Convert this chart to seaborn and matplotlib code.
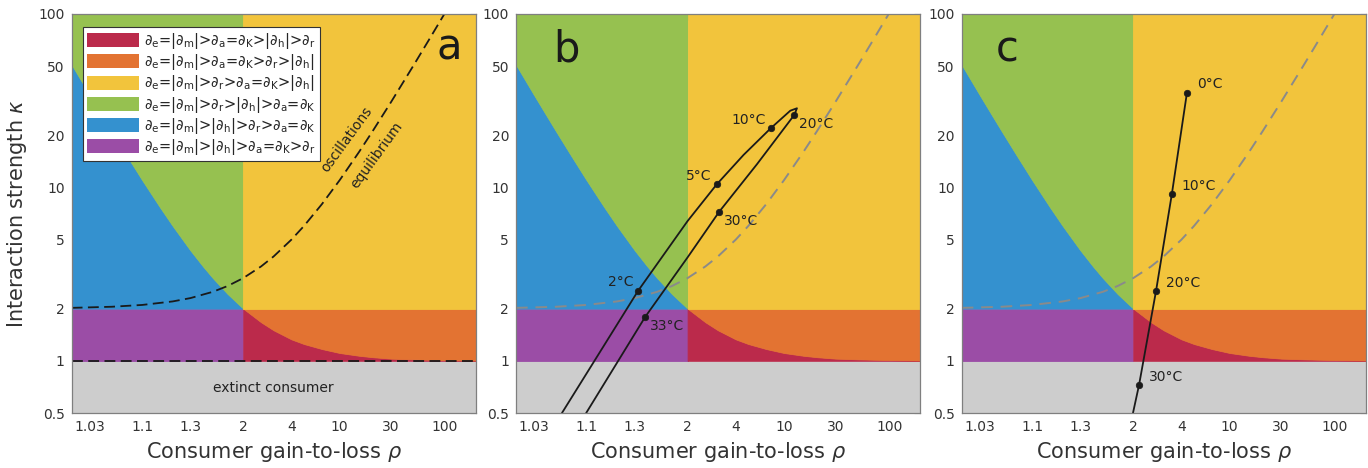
import numpy as np
import pandas as pd
import seaborn as sns
import matplotlib.pyplot as plt
from matplotlib.patches import Patch
from matplotlib.ticker import FixedLocator, FixedFormatter, NullLocator

# boundary curve between regimes
bound_rho = [1.02, 1.03, 1.04, 1.05, 1.07, 1.1, 1.15, 1.2, 1.3, 1.4, 1.5, 1.7, 2,
             2.5, 3, 4, 5, 7, 10, 15, 20, 30, 50, 100, 201]
bound_kap = [51, 34.3, 26, 21, 15.3, 11, 7.67, 6.0, 4.33, 3.5, 3.0, 2.43, 2.0,
             1.67, 1.5, 1.33, 1.25, 1.17, 1.11, 1.07, 1.05, 1.03, 1.02, 1.01, 1.005]

# oscillations / equilibrium boundary
hopf_rho = [1.02, 1.05, 1.1, 1.2, 1.3, 1.5, 1.7, 2, 2.5, 3, 4, 5, 7, 10, 15, 20, 30, 50, 70, 99]
hopf_kap = [2.02, 2.05, 2.1, 2.2, 2.3, 2.5, 2.7, 3, 3.5, 4, 5, 6, 8, 11, 16, 21, 31, 51, 71, 100]

# panel b: temperature loop
loop_rho = [1.057, 1.323, 2.0, 2.94, 4.585, 7.64, 11.4, 13.1, 12.4, 5.86, 3.06, 2.0, 1.38, 1.099]
loop_kap = [0.5, 2.53, 6.4, 10.4, 15.4, 21.9, 27.7, 28.6, 26.2, 13.6, 7.25, 3.95, 1.79, 0.5]
b_temps = ['2°C', '5°C', '10°C', '20°C', '30°C', '33°C']
b_pt_rho = [1.323, 2.94, 7.64, 12.4, 3.06, 1.38]
b_pt_kap = [2.53, 10.4, 21.9, 26.2, 7.25, 1.79]

# panel c: temperature line
cline_rho = [1.993, 2.14, 2.68, 3.41, 4.40]
cline_kap = [0.5, 0.725, 2.53, 9.17, 35.2]
c_temps = ['0°C', '10°C', '20°C', '30°C']
c_pt_rho = [4.40, 3.41, 2.68, 2.14]
c_pt_kap = [35.2, 9.17, 2.53, 0.725]

orderings = ['e=|m|>a=K>|h|>r', 'e=|m|>a=K>r>|h|', 'e=|m|>r>a=K>|h|',
             'e=|m|>r>|h|>a=K', 'e=|m|>|h|>r>a=K', 'e=|m|>|h|>a=K>r']

xticks = [1.03, 1.1, 1.3, 2, 4, 10, 30, 100]
xticklabels = ['1.03', '1.1', '1.3', '2', '4', '10', '30', '100']
yticks = [0.5, 1, 2, 5, 10, 20, 50, 100]
yticklabels = ['0.5', '1', '2', '5', '10', '20', '50', '100']

red, orange, yellow = '#BB2A4B', '#E37332', '#F2C43C'
green, blue, purple = '#96C150', '#3491CF', '#9B4DA6'
grey = '#CDCDCD'
txt = '#333333'

sns.set_theme(style='white')
plt.rcParams['font.family'] = 'DejaVu Sans'
plt.rcParams['mathtext.fontset'] = 'dejavusans'


def fwd(r):
    return np.log10(np.maximum(np.asarray(r, dtype=float) - 1, 1e-12))


def inv(u):
    return 10 ** np.asarray(u, dtype=float) + 1


def fmt(s):
    out = ''
    for ch in s:
        if ch.isalpha():
            out += r'$\partial_\mathrm{%s}$' % ch
        else:
            out += ch
    return out


def draw_regions(ax):
    rho = np.array(bound_rho)
    kap = np.array(bound_kap)
    lft = rho <= 2
    rgt = rho >= 2
    kl = np.minimum(kap[lft], 100)
    kw = dict(lw=0.6)
    ax.axhspan(0.4, 1, color=grey, lw=0)
    ax.fill_between(rho[lft], 1, 2, color=purple, **kw)
    ax.fill_between(rho[lft], 2, kl, color=blue, **kw)
    ax.fill_between(rho[lft], kl, 100, color=green, **kw)
    ax.fill_between(rho[rgt], 1, kap[rgt], color=red, **kw)
    ax.fill_between(rho[rgt], kap[rgt], 2, color=orange, **kw)
    ax.fill_between(rho[rgt], 2, 100, color=yellow, **kw)


def style_axes(ax):
    ax.set_xscale('function', functions=(fwd, inv))
    ax.set_yscale('log')
    ax.set_xlim(1.02, 201)
    ax.set_ylim(0.5, 100)
    ax.xaxis.set_major_locator(FixedLocator(xticks))
    ax.xaxis.set_major_formatter(FixedFormatter(xticklabels))
    ax.xaxis.set_minor_locator(NullLocator())
    ax.yaxis.set_major_locator(FixedLocator(yticks))
    ax.yaxis.set_major_formatter(FixedFormatter(yticklabels))
    ax.yaxis.set_minor_locator(NullLocator())
    ax.tick_params(which='both', direction='in', top=True, right=True, length=4,
                   width=0.8, color='#7f7f7f', labelsize=10, labelcolor=txt, pad=5)
    for sp in ax.spines.values():
        sp.set_color('#7f7f7f')
        sp.set_linewidth(0.9)
        sp.set_zorder(10)
    ax.set_xlabel(r'Consumer gain-to-loss $\rho$', fontsize=15, color=txt, labelpad=4)


fig = plt.figure(figsize=(13.68, 4.68), dpi=100)
lefts = [0.0524, 0.3772, 0.703]
axes = [fig.add_axes([l, 0.1175, 0.2953, 0.8526]) for l in lefts]

hopf = pd.DataFrame({'rho': hopf_rho, 'kappa': hopf_kap})

# panel a
ax = axes[0]
draw_regions(ax)
sns.lineplot(data=hopf, x='rho', y='kappa', ax=ax, sort=False, estimator=None,
             color='k', lw=1.3, linestyle=(0, (6, 3)), zorder=4)
ax.axhline(1, color='k', lw=1.3, linestyle=(0, (6, 3)), zorder=4)
ax.text(11.6, 18.8, 'oscillations', rotation=54, ha='center', va='center',
        rotation_mode='anchor', fontsize=10, color='#222222')
ax.text(22.1, 15.4, 'equilibrium', rotation=54, ha='center', va='center',
        rotation_mode='anchor', fontsize=10, color='#222222')
ax.text(0.5, 0.694, 'extinct consumer', transform=ax.get_yaxis_transform(),
        ha='center', va='center', fontsize=10, color='#222222')
ax.text(0.935, 0.886, 'a', transform=ax.transAxes, ha='center', va='baseline',
        fontsize=30, color='k')
handles = [Patch(facecolor=c, edgecolor='none') for c in [red, orange, yellow, green, blue, purple]]
leg = ax.legend(handles, [fmt(s) for s in orderings], loc='upper left',
                bbox_to_anchor=(0.027, 0.968), borderaxespad=0, fontsize=10.5,
                handlelength=3.6, handleheight=1.1, handletextpad=0.3,
                labelspacing=0.08, borderpad=0.3, fancybox=False, framealpha=1)
leg.get_frame().set_edgecolor('#333333')
leg.get_frame().set_linewidth(0.8)
leg.set_zorder(12)
style_axes(ax)
ax.set_ylabel(r'Interaction strength $\kappa$', fontsize=15, color=txt, labelpad=7)

# panel b
ax = axes[1]
draw_regions(ax)
sns.lineplot(data=hopf, x='rho', y='kappa', ax=ax, sort=False, estimator=None,
             color='#8a8a8a', lw=1.4, linestyle=(0, (6, 4)), zorder=4)
loop = pd.DataFrame({'rho': loop_rho, 'kappa': loop_kap})
sns.lineplot(data=loop, x='rho', y='kappa', ax=ax, sort=False, estimator=None,
             color='k', lw=1.3, zorder=5)
sns.scatterplot(x=b_pt_rho, y=b_pt_kap, ax=ax, color='k', s=22, edgecolor='k',
                linewidth=0.5, zorder=6)
for t, r, k in zip(b_temps, b_pt_rho, b_pt_kap):
    if t in ('2°C', '5°C', '10°C'):
        off, ha = (-3.6, 6.3), 'right'
    else:
        off, ha = (3.6, -6.8), 'left'
    ax.annotate(t, (r, k), xytext=off, textcoords='offset points', ha=ha,
                va='center', fontsize=10, color='#222222', zorder=7)
ax.text(0.126, 0.88, 'b', transform=ax.transAxes, ha='center', va='baseline',
        fontsize=30, color='k')
style_axes(ax)
ax.set_ylabel('')

# panel c
ax = axes[2]
draw_regions(ax)
sns.lineplot(data=hopf, x='rho', y='kappa', ax=ax, sort=False, estimator=None,
             color='#8a8a8a', lw=1.4, linestyle=(0, (6, 4)), zorder=4)
cl = pd.DataFrame({'rho': cline_rho, 'kappa': cline_kap})
sns.lineplot(data=cl, x='rho', y='kappa', ax=ax, sort=False, estimator=None,
             color='k', lw=1.3, zorder=5)
sns.scatterplot(x=c_pt_rho, y=c_pt_kap, ax=ax, color='k', s=22, edgecolor='k',
                linewidth=0.5, zorder=6)
for t, r, k in zip(c_temps, c_pt_rho, c_pt_kap):
    ax.annotate(t, (r, k), xytext=(7, 6), textcoords='offset points', ha='left',
                va='center', fontsize=10, color='#222222', zorder=7)
ax.text(0.112, 0.88, 'c', transform=ax.transAxes, ha='center', va='baseline',
        fontsize=30, color='k')
style_axes(ax)
ax.set_ylabel('')

fig.savefig('out.png', dpi=100)
